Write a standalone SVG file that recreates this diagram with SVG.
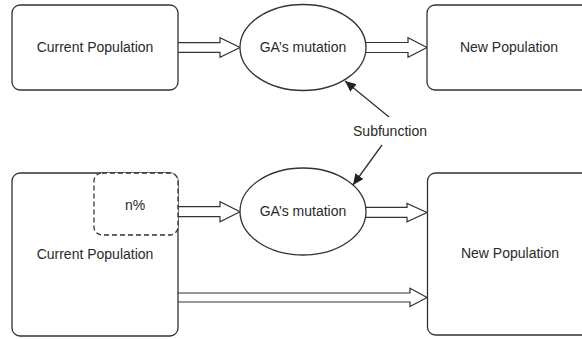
<svg xmlns="http://www.w3.org/2000/svg" width="582" height="339" viewBox="0 0 582 339">
<style>
.box{fill:#fff;stroke:#333;stroke-width:1.3}
.dash{fill:#fff;stroke:#333;stroke-width:1.3;stroke-dasharray:5 3}
.ell{fill:#fff;stroke:#333;stroke-width:1.3}
.fat{fill:#fff;stroke:#333;stroke-width:1.2;stroke-linejoin:miter}
.thin{fill:none;stroke:#333;stroke-width:1.3}
text{font-family:"Liberation Sans",Arial,sans-serif;font-size:14px;fill:#2a2a2a;text-anchor:middle}
</style>
<defs>
<marker id="ah" markerWidth="12" markerHeight="10" refX="11" refY="5" orient="auto" markerUnits="userSpaceOnUse">
<path d="M0,0 L11,5 L0,10 Z" fill="#222"/>
</marker>
</defs>
<rect width="582" height="339" fill="#fff"/>
<g id="connectors">
<path class="fat" d="M178,42.7 H220 V37.7 L240,47.5 L220,57.3 V52.3 H178"/>
<path class="fat" d="M365,42.5 H408 V37.7 L427,47.5 L408,57.3 V52.5 H365"/>
<path class="fat" d="M178,206.7 H220 V201.7 L240,211.7 L220,221.7 V216.7 H178"/>
<path class="fat" d="M364,207.3 H407 V203.5 L427,212.5 L407,221.7 V217.3 H364"/>
<path class="fat" d="M178,293 H410 V288.3 L427,297.5 L410,306.5 V302 H178"/>
<line class="thin" x1="389" y1="117" x2="345" y2="81" marker-end="url(#ah)"/>
<line class="thin" x1="382" y1="145" x2="353" y2="185" marker-end="url(#ah)"/>
</g>
<g id="current-pop-top">
<rect class="box" x="12" y="5" width="166" height="85" rx="8"/>
<text x="95" y="52">Current Population</text>
</g>
<g id="mutation-top">
<ellipse class="ell" cx="303" cy="47.5" rx="63" ry="43"/>
<text x="303" y="52">GA’s mutation</text>
</g>
<g id="new-pop-top">
<rect class="box" x="427" y="5" width="170" height="85" rx="8"/>
<text x="509" y="52">New Population</text>
</g>
<g id="subfunction">
<text x="390" y="136">Subfunction</text>
</g>
<g id="current-pop-bottom">
<rect class="box" x="12" y="173" width="166" height="163" rx="8"/>
<rect class="dash" x="94" y="173" width="84" height="62" rx="8"/>
<text x="135" y="210">n%</text>
<text x="95" y="259">Current Population</text>
</g>
<g id="mutation-bottom">
<ellipse class="ell" cx="303" cy="211.5" rx="63" ry="43.5"/>
<text x="303" y="216">GA’s mutation</text>
</g>
<g id="new-pop-bottom">
<rect class="box" x="427.5" y="173" width="170" height="162" rx="8"/>
<text x="510" y="258">New Population</text>
</g>
</svg>
